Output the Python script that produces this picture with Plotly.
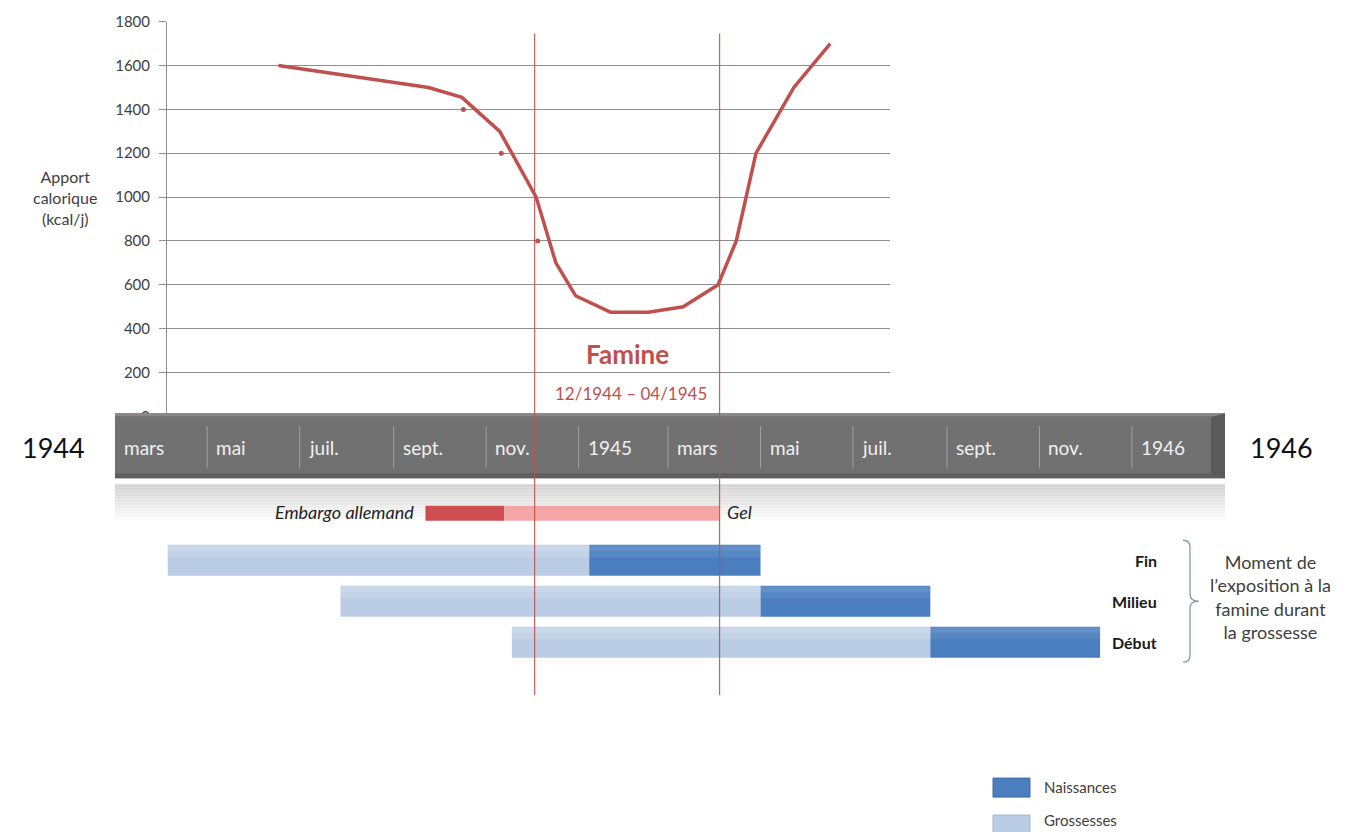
import plotly.graph_objects as go
import pandas as pd

W, H = 1367, 832

# ---------------- DATA ----------------
calorie_dates = ['1944-06-17', '1944-09-24', '1944-10-16', '1944-11-10', '1944-12-04',
                 '1944-12-17', '1944-12-30', '1945-01-22', '1945-02-16', '1945-03-11',
                 '1945-04-03', '1945-04-15', '1945-04-28', '1945-05-23', '1945-06-16']
calories = [1600, 1500, 1455, 1300, 1000, 700, 550, 475, 475, 500, 600, 800, 1200, 1500, 1700]

marker_dates = ['1944-10-17', '1944-11-11', '1944-12-05']
marker_values = [1400, 1200, 800]

timeline_dates = ['1944-03-01', '1944-05-01', '1944-07-01', '1944-09-01', '1944-11-01', '1945-01-01',
                  '1945-03-01', '1945-05-01', '1945-07-01', '1945-09-01', '1945-11-01', '1946-01-01']
timeline_labels = ['mars', 'mai', 'juil.', 'sept.', 'nov.', '1945',
                   'mars', 'mai', 'juil.', 'sept.', 'nov.', '1946']
year_start_label = '1944'
year_end_label = '1946'

famine_bounds = ['1944-12-03', '1945-04-04']
famine_title = 'Famine'
famine_period = '12/1944 – 04/1945'

embargo_start = ['1944-09-22', '1944-11-13']
embargo_end = ['1944-11-13', '1945-04-04']
embargo_labels = ['Embargo allemand', 'Gel']

phases = ['Fin', 'Milieu', 'Début']
grossesse_start = ['1944-04-05', '1944-07-28', '1944-11-18']
grossesse_end = ['1945-01-08', '1945-05-01', '1945-08-21']
naissance_start = ['1945-01-08', '1945-05-01', '1945-08-21']
naissance_end = ['1945-05-01', '1945-08-21', '1945-12-11']

series_names = ['Naissances', 'Grossesses']
y_title = 'Apport<br>calorique<br>(kcal/j)'
exposure_note = 'Moment de<br>l\u2019exposition à la<br>famine durant<br>la grossesse'

# ---------------- LAYOUT HELPERS ----------------
FONT = 'Lato'
RED = '#c0504d'
C_NAISS = '#4a7ebf'
C_GROSS = '#bacde5'

# vertical calibration of the rendered picture
VY0, VK = 9.4, 0.979

D0 = pd.Timestamp('1944-03-01')
X0 = 114.7          # pixel of D0
PXD = 1.516         # pixels per day


def px2date(p):
    return (D0 + pd.Timedelta(days=(p - X0) / PXD)).strftime('%Y-%m-%d %H:%M')


def fx(p):
    return p / W


def fy(t):
    return 1 - ((t - VY0) / VK) / H


def dur_ms(s, e):
    return [(pd.Timestamp(b) - pd.Timestamp(a)).total_seconds() * 1000 for a, b in zip(s, e)]


row_y = {'Fin': 560, 'Milieu': 601, 'Début': 642}
embargo_y = 513

fig = go.Figure()

gy = [row_y[p] for p in phases]
# Gantt bars (pixel-like y axis)
fig.add_trace(go.Bar(orientation='h', base=grossesse_start, x=dur_ms(grossesse_start, grossesse_end),
                     y=gy, width=31, marker=dict(color=C_GROSS, line=dict(width=0)),
                     name=series_names[1], xaxis='x', yaxis='y', showlegend=False))
fig.add_trace(go.Bar(orientation='h', base=naissance_start, x=dur_ms(naissance_start, naissance_end),
                     y=gy, width=31, marker=dict(color=C_NAISS, line=dict(width=0)),
                     name=series_names[0], xaxis='x', yaxis='y', showlegend=False))
# subtle top gradient highlight
for off, wdt, a in [(-9, 12, 0.12), (-12, 6, 0.12)]:
    fig.add_trace(go.Bar(orientation='h', base=grossesse_start, x=dur_ms(grossesse_start, grossesse_end),
                         y=[v + off for v in gy], width=wdt,
                         marker=dict(color=f'rgba(255,255,255,{a})', line=dict(width=0)),
                         xaxis='x', yaxis='y', showlegend=False, hoverinfo='skip'))
    fig.add_trace(go.Bar(orientation='h', base=naissance_start, x=dur_ms(naissance_start, naissance_end),
                         y=[v + off for v in gy], width=wdt,
                         marker=dict(color=f'rgba(255,255,255,{a * 0.6})', line=dict(width=0)),
                         xaxis='x', yaxis='y', showlegend=False, hoverinfo='skip'))
# Embargo / Gel bar
fig.add_trace(go.Bar(orientation='h', base=embargo_start, x=dur_ms(embargo_start, embargo_end),
                     y=[embargo_y, embargo_y], width=15,
                     marker=dict(color=['#cd4d51', '#f2a7a6'], line=dict(width=0)),
                     xaxis='x', yaxis='y', showlegend=False))

# Calorie line
fig.add_trace(go.Scatter(x=calorie_dates, y=calories, mode='lines',
                         line=dict(color=RED, width=3.5), xaxis='x2', yaxis='y2', showlegend=False))
fig.add_trace(go.Scatter(x=marker_dates, y=marker_values, mode='markers',
                         marker=dict(color=RED, size=5), xaxis='x2', yaxis='y2', showlegend=False))

shapes = []
# reflection under band
steps = 12
for i in range(steps):
    t = i / steps
    g = int(212 + (255 - 212) * t)
    y0 = 484 + i * 3
    shapes.append(dict(type='rect', xref='paper', yref='paper', x0=fx(115), x1=fx(1225),
                       y0=fy(y0 + 3), y1=fy(y0), fillcolor=f'rgb({g},{g},{g})', line=dict(width=0), layer='below'))
# band
shapes.append(dict(type='rect', xref='paper', yref='paper', x0=fx(115), x1=fx(1225), y0=fy(478), y1=fy(413),
                   fillcolor='#717171', line=dict(width=0), layer='above'))
shapes.append(dict(type='rect', xref='paper', yref='paper', x0=fx(115), x1=fx(1225), y0=fy(416), y1=fy(413),
                   fillcolor='#888888', line=dict(width=0), layer='above'))
shapes.append(dict(type='rect', xref='paper', yref='paper', x0=fx(115), x1=fx(1225), y0=fy(478), y1=fy(473),
                   fillcolor='#5f5f5f', line=dict(width=0), layer='above'))
shapes.append(dict(type='path', xref='paper', yref='paper', layer='above',
                   path=f'M {fx(1211)},{fy(417)} L {fx(1225)},{fy(413)} L {fx(1225)},{fy(478)} L {fx(1211)},{fy(473)} Z',
                   fillcolor='#5a5a5a', line=dict(width=0)))
# separators
for d in timeline_dates[1:]:
    shapes.append(dict(type='line', xref='x', yref='paper', x0=d, x1=d, y0=fy(468), y1=fy(426),
                       line=dict(color='#a0a0a0', width=1), layer='above'))
# famine lines
for d in famine_bounds:
    shapes.append(dict(type='line', xref='x', yref='paper', x0=d, x1=d, y0=fy(695), y1=fy(33),
                       line=dict(color='rgba(192,80,77,0.9)', width=1.2), layer='above'))
# bracket
bx = 1190
bpath = (f'M {fx(1183)},{fy(540)} Q {fx(bx)},{fy(540)} {fx(bx)},{fy(547)} '
         f'L {fx(bx)},{fy(594)} Q {fx(bx)},{fy(601)} {fx(1199)},{fy(601)} '
         f'Q {fx(bx)},{fy(601)} {fx(bx)},{fy(608)} L {fx(bx)},{fy(655)} '
         f'Q {fx(bx)},{fy(662)} {fx(1183)},{fy(662)}')
shapes.append(dict(type='path', xref='paper', yref='paper', path=bpath,
                   line=dict(color='#8298b8', width=1.3), layer='above'))
# legend swatches
shapes.append(dict(type='rect', xref='paper', yref='paper', x0=fx(993), x1=fx(1030), y0=fy(797), y1=fy(778),
                   fillcolor=C_NAISS, line=dict(color='#3f6aa3', width=1)))
shapes.append(dict(type='rect', xref='paper', yref='paper', x0=fx(993), x1=fx(1030), y0=fy(836), y1=fy(815),
                   fillcolor=C_GROSS, line=dict(color='#9fb6d4', width=1)))


def A(text, x, y, size, color, xanchor='center', xref='paper', xshift=0, align='center'):
    return dict(text=text, x=x, y=fy(y), xref=xref, yref='paper', xanchor=xanchor, yanchor='middle',
                xshift=xshift, showarrow=False, align=align, font=dict(family=FONT, size=size, color=color))


ann = []
ann.append(A(y_title, fx(65), 197, 16, '#404040'))
ann.append(A(year_start_label, fx(53), 447, 27, '#111111'))
ann.append(A(year_end_label, fx(1281), 447, 27, '#111111'))
for d, lab in zip(timeline_dates, timeline_labels):
    ann.append(A(lab, d, 447, 19, '#f0f0f0', xanchor='left', xref='x', xshift=7))
ann.append(A(f'<b>{famine_title}</b>', fx(627), 354, 26, RED))
ann.append(A(famine_period, fx(631), 393, 17, RED))
ann.append(A(f'<i>{embargo_labels[0]}</i>', embargo_start[0], 512, 18, '#222222', xanchor='right', xref='x', xshift=-9))
ann.append(A(f'<i>{embargo_labels[1]}</i>', embargo_end[1], 512, 18, '#222222', xanchor='left', xref='x', xshift=5))
for p in phases:
    ann.append(A(f'<b>{p}</b>', fx(1159), row_y[p], 16, '#1a1a1a', xanchor='right'))
ann.append(A(exposure_note, fx(1270), 597, 18, '#404040'))
ann.append(A(series_names[0], fx(1042), 787, 15, '#404040', xanchor='left'))
ann.append(A(series_names[1], fx(1042), 820, 15, '#404040', xanchor='left'))

fig.update_layout(
    width=W, height=H, autosize=False,
    margin=dict(l=0, r=0, t=0, b=0, pad=0),
    paper_bgcolor='white', plot_bgcolor='rgba(0,0,0,0)',
    barmode='overlay', showlegend=False,
    xaxis=dict(type='date', domain=[0, 1], range=[px2date(0), px2date(W)], visible=False, anchor='y'),
    yaxis=dict(domain=[0, 1], range=[VY0 + VK * H, VY0], visible=False, anchor='x'),
    xaxis2=dict(type='date', domain=[fx(167), fx(890)], range=[px2date(167), px2date(890)],
                visible=False, anchor='y2'),
    yaxis2=dict(domain=[fy(416), fy(21)], range=[0, 1800.5], anchor='x2', dtick=200, tick0=0,
                showgrid=True, gridcolor='#8f8f8f', gridwidth=1, zeroline=False,
                showline=True, linecolor='#8f8f8f', linewidth=1,
                ticks='outside', ticklen=7, tickcolor='#8f8f8f', ticklabelstandoff=6,
                tickfont=dict(family=FONT, size=15, color='#404040')),
    shapes=shapes, annotations=ann,
)

fig.write_html('out.html', config={'displayModeBar': False},
               post_script="document.body.style.margin='0';document.body.style.overflow='hidden';")
